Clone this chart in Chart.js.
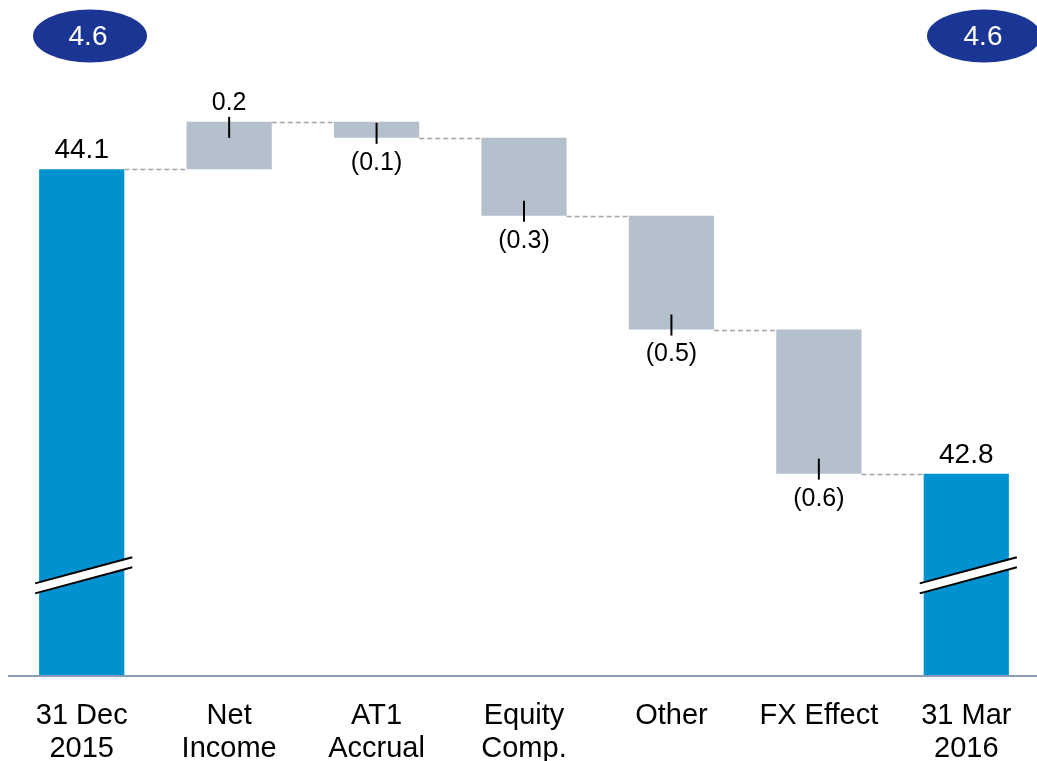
<!DOCTYPE html>
<html>
<head>
<meta charset="utf-8">
<script src="https://cdn.jsdelivr.net/npm/chart.js@4"></script>
<style>
html,body{margin:0;padding:0;background:#fff;overflow:hidden;}
#wrap{width:1040px;height:761px;position:relative;}
</style>
</head>
<body>
<div id="wrap"><canvas id="c"></canvas></div>
<script>
// ---- data ----
const categories = [["31 Dec","2015"],["Net","Income"],["AT1","Accrual"],["Equity","Comp."],["Other"],["FX Effect"],["31 Mar","2016"]];
const startValue = 44.1;
const deltas = [0.202, -0.068, -0.333, -0.485, -0.615];
const endValue = 42.8;
const totalLabels = ["44.1", "42.8"];
const deltaLabels = ["0.2", "(0.1)", "(0.3)", "(0.5)", "(0.6)"];
const badgeLabels = ["4.6", "4.6"];
const axisMin = 41.938;
const axisMax = 44.566;

// build floating bars
const bars = [];
const kinds = [];
bars.push([axisMin, startValue]); kinds.push('total');
let run = startValue;
deltas.forEach(d => { const nxt = run + d; bars.push([Math.min(run, nxt), Math.max(run, nxt)]); kinds.push(d >= 0 ? 'up' : 'down'); run = nxt; });
bars.push([axisMin, endValue]); kinds.push('total');
const levels = [startValue];
{ let r = startValue; deltas.forEach(d => { r += d; levels.push(r); }); }
const pointLabels = [totalLabels[0], ...deltaLabels, totalLabels[1]];

const BLUE = '#0092d0', GRAY = '#b4c0cc', NAVY = '#1a3593';
const FONT = '"Liberation Sans", Arial, Helvetica, sans-serif';

const overlay = {
  id: 'overlay',
  afterDatasetsDraw(chart) {
    const ctx = chart.ctx;
    const meta = chart.getDatasetMeta(0);
    const els = meta.data;
    const ys = chart.scales.y;
    ctx.save();
    // connectors
    ctx.strokeStyle = '#a6a6a6'; ctx.lineWidth = 1.5; ctx.setLineDash([5, 3]);
    for (let i = 0; i < els.length - 1; i++) {
      const a = els[i], b = els[i + 1];
      const lv = Math.round(ys.getPixelForValue(i < levels.length ? levels[i] : endValue)) + 0.5;
      ctx.beginPath();
      ctx.moveTo(a.x + a.width / 2, lv);
      ctx.lineTo(b.x - b.width / 2, lv);
      ctx.stroke();
    }
    ctx.setLineDash([]);
    // axis line
    const ab = chart.chartArea.bottom;
    ctx.strokeStyle = '#8a9bb3'; ctx.lineWidth = 2;
    ctx.beginPath(); ctx.moveTo(8, ab); ctx.lineTo(chart.width, ab); ctx.stroke();
    // tick marks & labels
    ctx.textAlign = 'center'; ctx.textBaseline = 'middle'; ctx.fillStyle = '#000';
    els.forEach((el, i) => {
      const top = Math.min(el.y, el.base), bot = Math.max(el.y, el.base);
      const k = kinds[i];
      ctx.fillStyle = '#000';
      if (k === 'total') {
        ctx.font = '28px ' + FONT;
        ctx.fillText(pointLabels[i], el.x, top - 19);
      } else {
        ctx.strokeStyle = '#000'; ctx.lineWidth = 2;
        ctx.beginPath();
        if (k === 'up') { ctx.moveTo(el.x, top - 5); ctx.lineTo(el.x, top + 16); }
        else { ctx.moveTo(el.x, bot - 15); ctx.lineTo(el.x, bot + 6); }
        ctx.stroke();
        ctx.font = '25px ' + FONT;
        if (k === 'up') ctx.fillText(pointLabels[i], el.x, top - 19);
        else ctx.fillText(pointLabels[i], el.x, bot + 25);
      }
    });
    // axis break marks on total bars
    [0, els.length - 1].forEach(i => {
      const el = els[i];
      const cy = el.base - 100;
      const x0 = el.x - el.width / 2 - 4, x1 = el.x + el.width / 2 + 8;
      const slope = -26 / 97;
      const yAt = (x, off) => cy + off + (x - el.x) * slope;
      ctx.fillStyle = '#fff';
      ctx.beginPath();
      ctx.moveTo(x0, yAt(x0, -5)); ctx.lineTo(x1, yAt(x1, -5));
      ctx.lineTo(x1, yAt(x1, 5)); ctx.lineTo(x0, yAt(x0, 5)); ctx.closePath(); ctx.fill();
      ctx.strokeStyle = '#000'; ctx.lineWidth = 2;
      [-5, 5].forEach(off => { ctx.beginPath(); ctx.moveTo(x0, yAt(x0, off)); ctx.lineTo(x1, yAt(x1, off)); ctx.stroke(); });
    });
    // badges
    const badges = [[90, 36], [984, 36]];
    badges.forEach((p, j) => {
      ctx.fillStyle = NAVY;
      ctx.beginPath(); ctx.ellipse(p[0], p[1], 57, 26.5, 0, 0, Math.PI * 2); ctx.fill();
      ctx.fillStyle = '#fff'; ctx.font = '28px ' + FONT;
      ctx.fillText(badgeLabels[j], j === 0 ? 88 : 983, p[1] + 1);
    });
    ctx.restore();
  }
};

new Chart(document.getElementById('c'), {
  type: 'bar',
  data: {
    labels: categories,
    datasets: [{
      data: bars,
      backgroundColor: kinds.map(k => k === 'total' ? BLUE : GRAY),
      borderWidth: 0,
      barPercentage: 0.578,
      categoryPercentage: 1
    }]
  },
  options: {
    responsive: true,
    maintainAspectRatio: false,
    animation: false,
    devicePixelRatio: 1,
    layout: { padding: { top: 60, left: 8, right: 0, bottom: -29 } },
    plugins: { legend: { display: false }, tooltip: { enabled: false } },
    scales: {
      x: {
        grid: { display: false, drawTicks: false },
        border: { display: false },
        ticks: { color: '#000', font: { size: 29, family: FONT, lineHeight: 1.14 }, padding: 24, maxRotation: 0, autoSkip: false }
      },
      y: { display: false, min: axisMin, max: axisMax }
    }
  },
  plugins: [overlay]
});
</script>
</body>
</html>
